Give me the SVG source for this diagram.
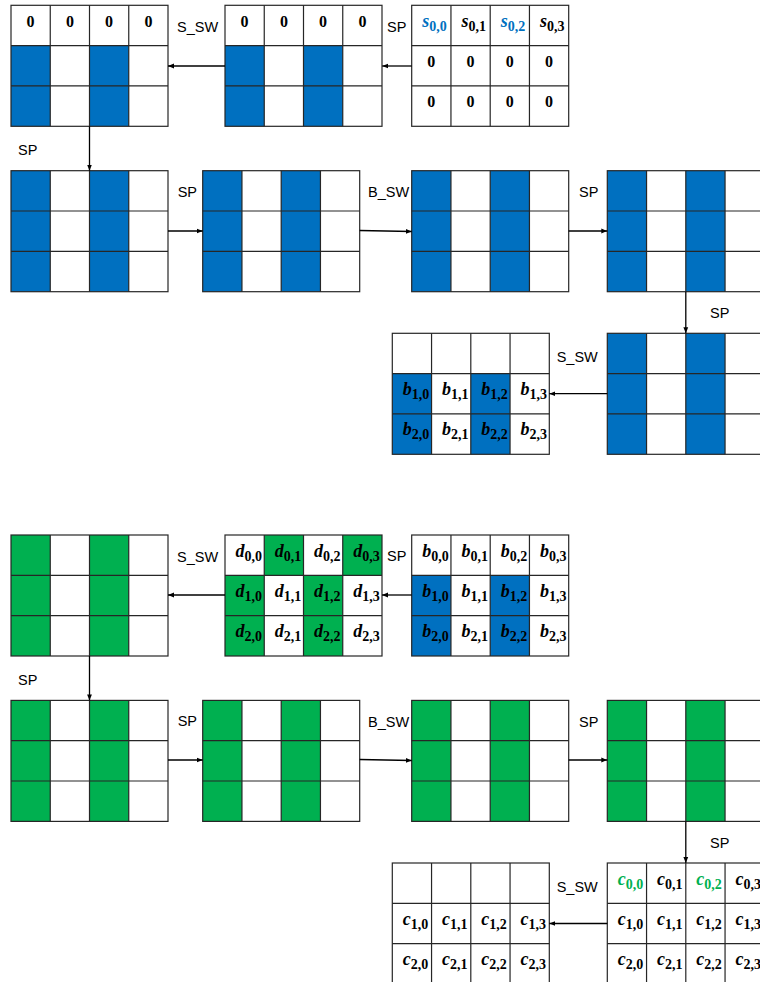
<svg xmlns="http://www.w3.org/2000/svg" xmlns:xlink="http://www.w3.org/1999/xlink" width="760" height="982" viewBox="0 0 760 982">
<style>
.g{fill:none;stroke:#262626;stroke-width:1.2}
.b{fill:#0070C0}
.gr{fill:#00B050}
.lbl{font-family:"Liberation Sans",Arial,sans-serif;font-size:14.5px;fill:#000}
.z{font-family:"Liberation Serif","Times New Roman",serif;font-weight:bold;font-size:16px;text-anchor:middle;fill:#000}
.m{font-family:"Liberation Serif","Times New Roman",serif;font-weight:bold;font-style:italic;font-size:18px;fill:#000}
.s{font-size:14px;font-style:normal}
.tb{fill:#0070C0}
.tg{fill:#00B050}
.c{stroke:#000;stroke-width:1.3;fill:none;marker-end:url(#ah)}
</style>
<defs>
<marker id="ah" viewBox="0 0 10 10" refX="10" refY="5" markerWidth="6" markerHeight="6" orient="auto" markerUnits="userSpaceOnUse"><path d="M0,1 L10,5 L0,9z" fill="#000"/></marker>
<g id="grid"><rect x="0" y="0" width="157" height="121" class="g"/><path class="g" d="M39.25,0V121M78.5,0V121M117.75,0V121M0,40.3H157M0,80.6H157"/></g>
<g id="cols"><rect x="0" y="0" width="39.25" height="121"/><rect x="78.5" y="0" width="39.25" height="121"/></g>
<g id="cols2"><rect x="0" y="40.3" width="39.25" height="80.7"/><rect x="78.5" y="40.3" width="39.25" height="80.7"/></g>
</defs>

<!-- top section -->
<g id="m1" transform="translate(11,5.3)">
<use href="#cols2" class="b"/><use href="#grid"/>
<text class="z" x="19.6" y="22">0</text><text class="z" x="58.9" y="22">0</text><text class="z" x="98.1" y="22">0</text><text class="z" x="137.4" y="22">0</text>
</g>
<g id="m2" transform="translate(225,5.3)">
<use href="#cols2" class="b"/><use href="#grid"/>
<text class="z" x="19.6" y="22">0</text><text class="z" x="58.9" y="22">0</text><text class="z" x="98.1" y="22">0</text><text class="z" x="137.4" y="22">0</text>
</g>
<g id="m3" transform="translate(411.7,5.3)">
<use href="#grid"/>
<text class="m tb" x="10.5" y="21.5">s<tspan class="s" dy="4">0,0</tspan></text>
<text class="m" x="49.75" y="21.5">s<tspan class="s" dy="4">0,1</tspan></text>
<text class="m tb" x="89" y="21.5">s<tspan class="s" dy="4">0,2</tspan></text>
<text class="m" x="128.25" y="21.5">s<tspan class="s" dy="4">0,3</tspan></text>
<text class="z" x="19.6" y="62">0</text><text class="z" x="58.9" y="62">0</text><text class="z" x="98.1" y="62">0</text><text class="z" x="137.4" y="62">0</text>
<text class="z" x="19.6" y="102">0</text><text class="z" x="58.9" y="102">0</text><text class="z" x="98.1" y="102">0</text><text class="z" x="137.4" y="102">0</text>
</g>
<g id="a1" transform="translate(11,170.7)"><use href="#cols" class="b"/><use href="#grid"/></g>
<g id="b1" transform="translate(202.7,170.7)"><use href="#cols" class="b"/><use href="#grid"/></g>
<g id="c1" transform="translate(411.7,170.7)"><use href="#cols" class="b"/><use href="#grid"/></g>
<g id="d1" transform="translate(607.3,170.7)"><use href="#cols" class="b"/><use href="#grid"/></g>
<g id="e1" transform="translate(392.3,333.3)">
<use href="#cols2" class="b"/><use href="#grid"/>
<text class="m" x="10.5" y="61.8">b<tspan class="s" dy="4">1,0</tspan></text>
<text class="m" x="49.75" y="61.8">b<tspan class="s" dy="4">1,1</tspan></text>
<text class="m" x="89" y="61.8">b<tspan class="s" dy="4">1,2</tspan></text>
<text class="m" x="128.25" y="61.8">b<tspan class="s" dy="4">1,3</tspan></text>
<text class="m" x="10.5" y="102.1">b<tspan class="s" dy="4">2,0</tspan></text>
<text class="m" x="49.75" y="102.1">b<tspan class="s" dy="4">2,1</tspan></text>
<text class="m" x="89" y="102.1">b<tspan class="s" dy="4">2,2</tspan></text>
<text class="m" x="128.25" y="102.1">b<tspan class="s" dy="4">2,3</tspan></text>
</g>
<g id="f1" transform="translate(607.3,333.3)"><use href="#cols" class="b"/><use href="#grid"/></g>

<!-- bottom section -->
<g id="g2" transform="translate(11,535)"><use href="#cols" class="gr"/><use href="#grid"/></g>
<g id="h2" transform="translate(225,535)">
<g class="gr"><rect x="39.25" y="0" width="39.25" height="40.3"/><rect x="117.75" y="0" width="39.25" height="40.3"/></g>
<use href="#cols2" class="gr"/><use href="#grid"/>
<text class="m" x="10.5" y="21.5">d<tspan class="s" dy="4">0,0</tspan></text>
<text class="m" x="49.75" y="21.5">d<tspan class="s" dy="4">0,1</tspan></text>
<text class="m" x="89" y="21.5">d<tspan class="s" dy="4">0,2</tspan></text>
<text class="m" x="128.25" y="21.5">d<tspan class="s" dy="4">0,3</tspan></text>
<text class="m" x="10.5" y="61.8">d<tspan class="s" dy="4">1,0</tspan></text>
<text class="m" x="49.75" y="61.8">d<tspan class="s" dy="4">1,1</tspan></text>
<text class="m" x="89" y="61.8">d<tspan class="s" dy="4">1,2</tspan></text>
<text class="m" x="128.25" y="61.8">d<tspan class="s" dy="4">1,3</tspan></text>
<text class="m" x="10.5" y="102.1">d<tspan class="s" dy="4">2,0</tspan></text>
<text class="m" x="49.75" y="102.1">d<tspan class="s" dy="4">2,1</tspan></text>
<text class="m" x="89" y="102.1">d<tspan class="s" dy="4">2,2</tspan></text>
<text class="m" x="128.25" y="102.1">d<tspan class="s" dy="4">2,3</tspan></text>
</g>
<g id="i2" transform="translate(411.7,535)">
<use href="#cols2" class="b"/><use href="#grid"/>
<text class="m" x="10.5" y="21.5">b<tspan class="s" dy="4">0,0</tspan></text>
<text class="m" x="49.75" y="21.5">b<tspan class="s" dy="4">0,1</tspan></text>
<text class="m" x="89" y="21.5">b<tspan class="s" dy="4">0,2</tspan></text>
<text class="m" x="128.25" y="21.5">b<tspan class="s" dy="4">0,3</tspan></text>
<text class="m" x="10.5" y="61.8">b<tspan class="s" dy="4">1,0</tspan></text>
<text class="m" x="49.75" y="61.8">b<tspan class="s" dy="4">1,1</tspan></text>
<text class="m" x="89" y="61.8">b<tspan class="s" dy="4">1,2</tspan></text>
<text class="m" x="128.25" y="61.8">b<tspan class="s" dy="4">1,3</tspan></text>
<text class="m" x="10.5" y="102.1">b<tspan class="s" dy="4">2,0</tspan></text>
<text class="m" x="49.75" y="102.1">b<tspan class="s" dy="4">2,1</tspan></text>
<text class="m" x="89" y="102.1">b<tspan class="s" dy="4">2,2</tspan></text>
<text class="m" x="128.25" y="102.1">b<tspan class="s" dy="4">2,3</tspan></text>
</g>
<g id="a2" transform="translate(11,700.4)"><use href="#cols" class="gr"/><use href="#grid"/></g>
<g id="b2" transform="translate(202.7,700.4)"><use href="#cols" class="gr"/><use href="#grid"/></g>
<g id="c2" transform="translate(411.7,700.4)"><use href="#cols" class="gr"/><use href="#grid"/></g>
<g id="d2" transform="translate(607.3,700.4)"><use href="#cols" class="gr"/><use href="#grid"/></g>
<g id="e2" transform="translate(392.3,863)">
<use href="#grid"/>
<text class="m" x="10.5" y="61.8">c<tspan class="s" dy="4">1,0</tspan></text>
<text class="m" x="49.75" y="61.8">c<tspan class="s" dy="4">1,1</tspan></text>
<text class="m" x="89" y="61.8">c<tspan class="s" dy="4">1,2</tspan></text>
<text class="m" x="128.25" y="61.8">c<tspan class="s" dy="4">1,3</tspan></text>
<text class="m" x="10.5" y="102.1">c<tspan class="s" dy="4">2,0</tspan></text>
<text class="m" x="49.75" y="102.1">c<tspan class="s" dy="4">2,1</tspan></text>
<text class="m" x="89" y="102.1">c<tspan class="s" dy="4">2,2</tspan></text>
<text class="m" x="128.25" y="102.1">c<tspan class="s" dy="4">2,3</tspan></text>
</g>
<g id="f2" transform="translate(607.3,863)">
<use href="#grid"/>
<text class="m tg" x="10.5" y="21.5">c<tspan class="s" dy="4">0,0</tspan></text>
<text class="m" x="49.75" y="21.5">c<tspan class="s" dy="4">0,1</tspan></text>
<text class="m tg" x="89" y="21.5">c<tspan class="s" dy="4">0,2</tspan></text>
<text class="m" x="128.25" y="21.5">c<tspan class="s" dy="4">0,3</tspan></text>
<text class="m" x="10.5" y="61.8">c<tspan class="s" dy="4">1,0</tspan></text>
<text class="m" x="49.75" y="61.8">c<tspan class="s" dy="4">1,1</tspan></text>
<text class="m" x="89" y="61.8">c<tspan class="s" dy="4">1,2</tspan></text>
<text class="m" x="128.25" y="61.8">c<tspan class="s" dy="4">1,3</tspan></text>
<text class="m" x="10.5" y="102.1">c<tspan class="s" dy="4">2,0</tspan></text>
<text class="m" x="49.75" y="102.1">c<tspan class="s" dy="4">2,1</tspan></text>
<text class="m" x="89" y="102.1">c<tspan class="s" dy="4">2,2</tspan></text>
<text class="m" x="128.25" y="102.1">c<tspan class="s" dy="4">2,3</tspan></text>
</g>

<!-- connectors -->
<g id="connectors">
<line class="c" x1="411.7" y1="66" x2="382.2" y2="66"/>
<line class="c" x1="225" y1="66" x2="168" y2="66"/>
<line class="c" x1="89.5" y1="126.3" x2="89.5" y2="170.7"/>
<line class="c" x1="168" y1="231" x2="202.7" y2="231"/>
<line class="c" x1="359.7" y1="230.5" x2="411.7" y2="231.5"/>
<line class="c" x1="568.7" y1="231" x2="607.3" y2="231"/>
<line class="c" x1="685.8" y1="291.7" x2="685.8" y2="333.3"/>
<line class="c" x1="607.3" y1="393.7" x2="549.3" y2="393.7"/>
<line class="c" x1="411.7" y1="595" x2="382" y2="595"/>
<line class="c" x1="225" y1="595" x2="168" y2="595"/>
<line class="c" x1="89.5" y1="656" x2="89.5" y2="700.4"/>
<line class="c" x1="168" y1="760" x2="202.7" y2="760"/>
<line class="c" x1="359.7" y1="759.5" x2="411.7" y2="760.5"/>
<line class="c" x1="568.7" y1="760" x2="607.3" y2="760"/>
<line class="c" x1="685.8" y1="821.4" x2="685.8" y2="863"/>
<line class="c" x1="607.3" y1="923.5" x2="549.3" y2="923.5"/>
</g>

<!-- labels -->
<g id="labels">
<text class="lbl" x="177" y="32">S_SW</text>
<text class="lbl" x="387" y="32">SP</text>
<text class="lbl" x="18" y="155">SP</text>
<text class="lbl" x="177.7" y="196.5">SP</text>
<text class="lbl" x="368" y="197">B_SW</text>
<text class="lbl" x="579" y="197">SP</text>
<text class="lbl" x="710" y="318">SP</text>
<text class="lbl" x="556.7" y="362">S_SW</text>
<text class="lbl" x="177" y="562">S_SW</text>
<text class="lbl" x="387" y="561">SP</text>
<text class="lbl" x="18" y="684.5">SP</text>
<text class="lbl" x="177.7" y="726">SP</text>
<text class="lbl" x="368" y="726.5">B_SW</text>
<text class="lbl" x="579" y="726.5">SP</text>
<text class="lbl" x="710" y="847.5">SP</text>
<text class="lbl" x="556.7" y="891.5">S_SW</text>
</g>
</svg>
